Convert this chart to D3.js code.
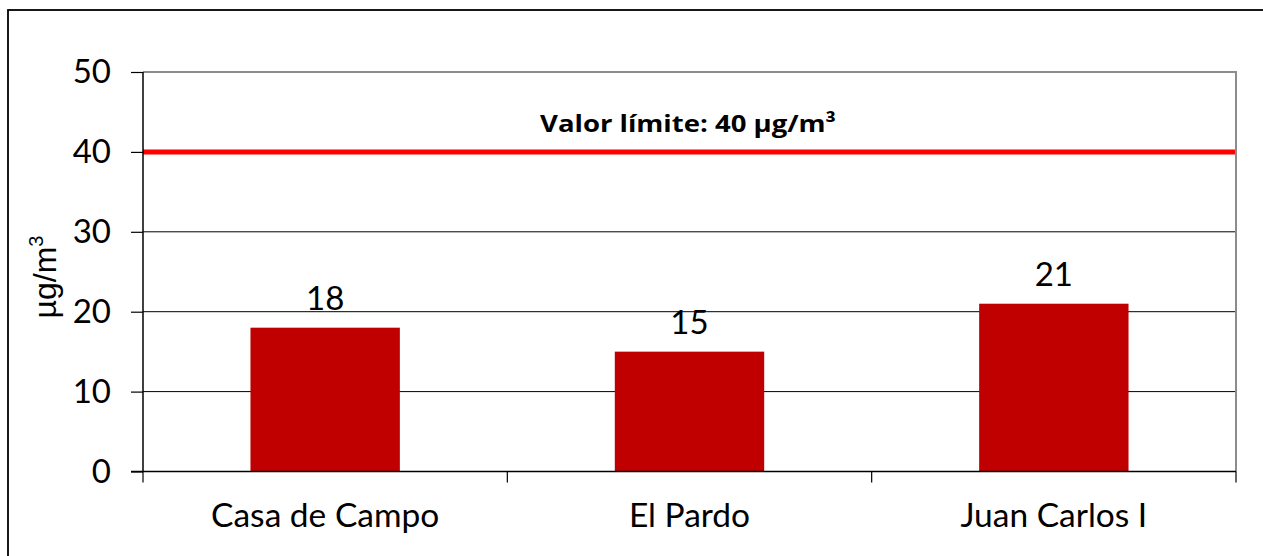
<!DOCTYPE html>
<html><head><meta charset="utf-8">
<script src="https://cdn.jsdelivr.net/npm/d3@7"></script>
<style>body{margin:0;background:#fff;} svg{display:block;}</style>
</head><body>
<svg id="c" width="1263" height="556"></svg>
<script>
const categories = ["Casa de Campo", "El Pardo", "Juan Carlos I"];
const values = [18, 15, 21];
const yTicks = [0, 10, 20, 30, 40, 50];
const limitValue = 40;
const limitLabel = "Valor límite: 40 µg/m³";
const yTitleBase = "µg/m";
const yTitleSup = "3";

const svg = d3.select("#c");
const L = 143, R = 1236, T = 72, B = 471.5;
const FONT = "Lato, 'Open Sans', sans-serif";

// outer border
svg.append("rect").attr("x", 8).attr("y", 10).attr("width", 1263).attr("height", 600)
  .attr("fill", "none").attr("stroke", "#000").attr("stroke-width", 1.8);

const x = d3.scaleBand().domain(categories).range([L, R]).paddingInner(0.59).paddingOuter(0.295);
const y = d3.scaleLinear().domain([0, 50]).range([B, T]);

// gridlines
svg.append("g").selectAll("line").data(yTicks.filter(t => t > 0 && t < 50)).join("line")
  .attr("x1", L).attr("x2", R).attr("y1", d => y(d)).attr("y2", d => y(d))
  .attr("stroke", "#000").attr("stroke-width", 1);

// plot frame top/right (gray)
svg.append("path").attr("d", `M${L},${y(50)}H${R}V${B}`).attr("fill", "none")
  .attr("stroke", "#8c8c8c").attr("stroke-width", 2);

// bars
svg.append("g").selectAll("rect").data(categories).join("rect")
  .attr("x", d => x(d)).attr("width", x.bandwidth())
  .attr("y", (d, i) => y(values[i])).attr("height", (d, i) => B - y(values[i]))
  .attr("fill", "#c00000");

// value labels
svg.append("g").selectAll("text").data(categories).join("text")
  .attr("x", d => x(d) + x.bandwidth() / 2).attr("y", (d, i) => y(values[i]) - 18)
  .attr("text-anchor", "middle").attr("font-family", FONT).attr("font-size", 33)
  .attr("fill", "#000").text((d, i) => values[i]);

// limit line
svg.append("line").attr("x1", L).attr("x2", R - 1).attr("y1", y(limitValue)).attr("y2", y(limitValue))
  .attr("stroke", "#ff0000").attr("stroke-width", 5);
svg.append("text").attr("x", 688).attr("y", y(limitValue) - 20)
  .attr("text-anchor", "middle").attr("font-family", "'Open Sans', sans-serif").attr("font-weight", "bold")
  .attr("font-size", 24).attr("textLength", 296).attr("lengthAdjust", "spacingAndGlyphs")
  .attr("fill", "#000").text(limitLabel);

// y axis
const yAxis = d3.axisLeft(y).tickValues(yTicks).tickSize(12).tickPadding(20).tickFormat(d3.format("d"));
const gy = svg.append("g").attr("transform", `translate(${L},0)`).call(yAxis);
gy.select(".domain").attr("stroke", "#000").attr("stroke-width", 1.5).attr("d", `M0,${y(50)}V${B}`);
gy.selectAll(".tick line").attr("stroke", "#000").attr("stroke-width", 1.2);
gy.selectAll(".tick text").attr("font-family", FONT).attr("font-size", 33).attr("fill", "#000");

// x axis
const boundaries = categories.map(c => x(c) - x.step() * x.paddingInner() / 2).concat([R]);
const gx = svg.append("g");
gx.append("line").attr("x1", L - 12).attr("x2", R).attr("y1", B).attr("y2", B)
  .attr("stroke", "#000").attr("stroke-width", 1.5);
gx.selectAll("line.tk").data(boundaries).join("line").attr("class", "tk")
  .attr("x1", d => d).attr("x2", d => d).attr("y1", B).attr("y2", B + 11)
  .attr("stroke", "#000").attr("stroke-width", 1.2);
gx.selectAll("text").data(categories).join("text")
  .attr("x", d => x(d) + x.bandwidth() / 2).attr("y", 527)
  .attr("text-anchor", "middle").attr("font-family", FONT).attr("font-size", 33.5)
  .attr("fill", "#000").text(d => d);

// y title
const yt = svg.append("text").attr("transform", `translate(56,277) rotate(-90)`)
  .attr("text-anchor", "middle").attr("font-family", "'Liberation Sans', Arial, sans-serif")
  .attr("font-size", 32).attr("fill", "#000");
yt.append("tspan").text(yTitleBase);
yt.append("tspan").attr("font-size", 20).attr("dy", -13).text(yTitleSup);
</script>
</body></html>
